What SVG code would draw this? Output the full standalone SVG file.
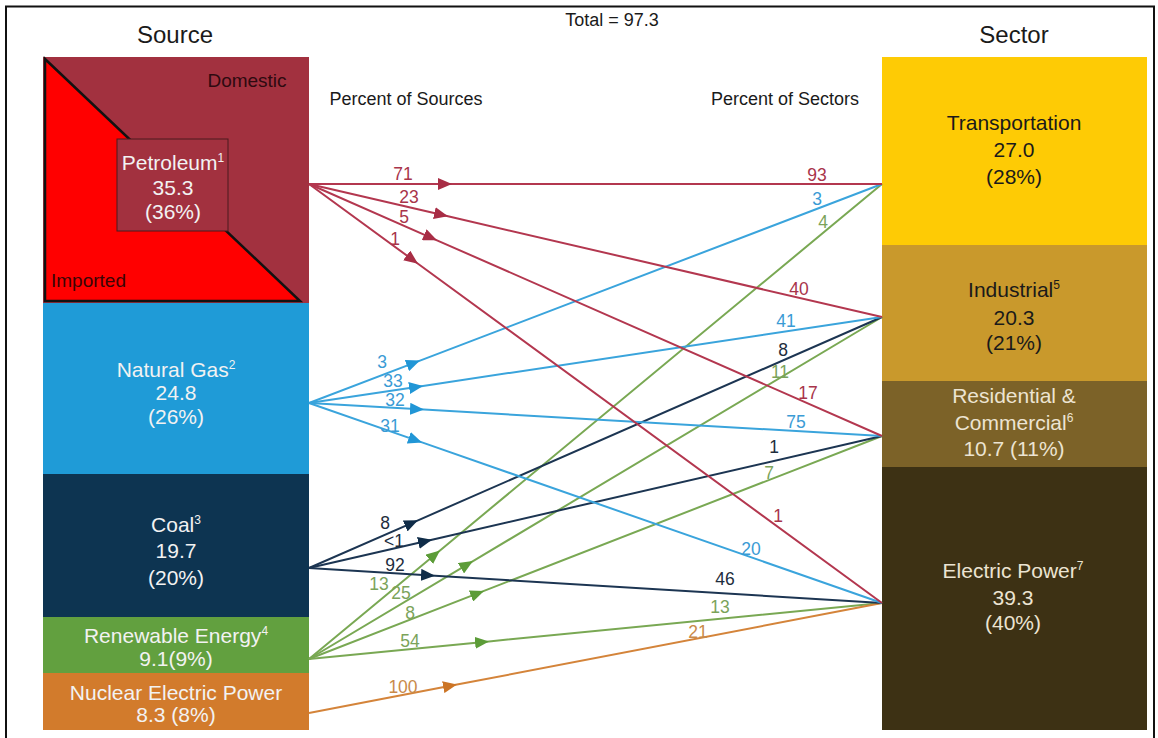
<svg xmlns="http://www.w3.org/2000/svg" width="1158" height="738" viewBox="0 0 1158 738">
<style>
text{font-family:"Liberation Sans",Arial,Helvetica,sans-serif}
.title{font-size:24px;fill:#1a1a1a;text-anchor:middle}
.sub{font-size:18px;fill:#1a1a1a;text-anchor:middle}
.nl{font-size:21px;text-anchor:middle}
.w{fill:#f2f2f2}
.dk{fill:#1a1a1a}
.lt{fill:#ece4d2}
.lbl{font-size:17.5px;text-anchor:middle}
.ln{fill:none;stroke-width:2}
.cp{stroke:#b3374f}
.cg{stroke:#3aa4dc}
.cc{stroke:#1c3552}
.cr{stroke:#79a853}
.cn{stroke:#d4843a}
.tp{fill:#a8344a}
.tg{fill:#3a9bd5}
.tc{fill:#1e2d3d}
.tr{fill:#7ba35a}
.tn{fill:#c98a4a}
</style>
<defs>
<marker id="ap" markerUnits="userSpaceOnUse" markerWidth="14" markerHeight="12" viewBox="0 0 14 12" refX="14" refY="6" orient="auto"><path d="M0,0 L14,6 L0,12 z" fill="#a82d45"/></marker>
<marker id="ag" markerUnits="userSpaceOnUse" markerWidth="14" markerHeight="12" viewBox="0 0 14 12" refX="14" refY="6" orient="auto"><path d="M0,0 L14,6 L0,12 z" fill="#2196d6"/></marker>
<marker id="ac" markerUnits="userSpaceOnUse" markerWidth="14" markerHeight="12" viewBox="0 0 14 12" refX="14" refY="6" orient="auto"><path d="M0,0 L14,6 L0,12 z" fill="#0f2c48"/></marker>
<marker id="ar" markerUnits="userSpaceOnUse" markerWidth="14" markerHeight="12" viewBox="0 0 14 12" refX="14" refY="6" orient="auto"><path d="M0,0 L14,6 L0,12 z" fill="#5c9c38"/></marker>
<marker id="an" markerUnits="userSpaceOnUse" markerWidth="14" markerHeight="12" viewBox="0 0 14 12" refX="14" refY="6" orient="auto"><path d="M0,0 L14,6 L0,12 z" fill="#cc7526"/></marker>
</defs>
<rect x="0" y="0" width="1158" height="738" fill="#ffffff"/>
<rect x="6" y="6.5" width="1148" height="740" fill="none" stroke="#111" stroke-width="2"/>

<g id="headings">
<text class="title" x="175" y="43">Source</text>
<text class="title" x="1014" y="43">Sector</text>
<text class="sub" x="612" y="26">Total = 97.3</text>
<text class="sub" x="406" y="105">Percent of Sources</text>
<text class="sub" x="785" y="105">Percent of Sectors</text>
</g>

<g id="node-petroleum">
<rect x="43" y="57" width="266" height="246" fill="#a2313f"/>
<polygon points="45,59 300,301 45,301" fill="#ff0000" stroke="#111" stroke-width="2.5" stroke-linejoin="miter"/>
<rect x="117" y="139" width="111" height="92" fill="#a2313f" stroke="#4a1a1f" stroke-width="1"/>
<text x="247" y="87" font-size="19" fill="#2e0a10" text-anchor="middle">Domestic</text>
<text x="51" y="287" font-size="19" fill="#3a0505">Imported</text>
<text class="nl w" x="173" y="170">Petroleum<tspan font-size="12" dy="-8">1</tspan></text>
<text class="nl w" x="173" y="195">35.3</text>
<text class="nl w" x="173" y="219">(36%)</text>
</g>

<g id="node-natural-gas">
<rect x="43" y="303" width="266" height="171" fill="#1f9bd7"/>
<text class="nl w" x="176" y="377">Natural Gas<tspan font-size="12" dy="-8">2</tspan></text>
<text class="nl w" x="176" y="400">24.8</text>
<text class="nl w" x="176" y="424">(26%)</text>
</g>

<g id="node-coal">
<rect x="43" y="474" width="266" height="143" fill="#0d3451"/>
<text class="nl w" x="176" y="532">Coal<tspan font-size="12" dy="-8">3</tspan></text>
<text class="nl w" x="176" y="558">19.7</text>
<text class="nl w" x="176" y="585">(20%)</text>
</g>

<g id="node-renewable">
<rect x="43" y="617" width="266" height="56" fill="#62a03f"/>
<text class="nl w" x="176" y="643">Renewable Energy<tspan font-size="12" dy="-8">4</tspan></text>
<text class="nl w" x="176" y="666">9.1(9%)</text>
</g>

<g id="node-nuclear">
<rect x="43" y="673" width="266" height="57" fill="#d27b2c"/>
<text class="nl w" x="176" y="700">Nuclear Electric Power</text>
<text class="nl w" x="176" y="722">8.3 (8%)</text>
</g>

<g id="node-transportation">
<rect x="882" y="57" width="265" height="188" fill="#fecb05"/>
<text class="nl dk" x="1014" y="130">Transportation</text>
<text class="nl dk" x="1014" y="157">27.0</text>
<text class="nl dk" x="1014" y="184">(28%)</text>
</g>

<g id="node-industrial">
<rect x="882" y="245" width="265" height="136" fill="#c9992c"/>
<text class="nl dk" x="1014" y="297">Industrial<tspan font-size="12" dy="-8">5</tspan></text>
<text class="nl dk" x="1014" y="325">20.3</text>
<text class="nl dk" x="1014" y="350">(21%)</text>
</g>

<g id="node-residential">
<rect x="882" y="381" width="265" height="86" fill="#7c6228"/>
<text class="nl lt" x="1014" y="403">Residential &amp;</text>
<text class="nl lt" x="1014" y="430">Commercial<tspan font-size="12" dy="-8">6</tspan></text>
<text class="nl lt" x="1014" y="456">10.7 (11%)</text>
</g>

<g id="node-electric">
<rect x="882" y="467" width="265" height="263" fill="#3d3114"/>
<text class="nl lt" x="1013" y="578">Electric Power<tspan font-size="12" dy="-8">7</tspan></text>
<text class="nl lt" x="1013" y="605">39.3</text>
<text class="nl lt" x="1013" y="630">(40%)</text>
</g>

<g id="connectors">
<path class="ln cr" marker-mid="url(#ar)" d="M309,659 L440,550.4 L882,184"/>
<path class="ln cr" marker-mid="url(#ar)" d="M309,659 L473,561.1 L882,317"/>
<path class="ln cr" marker-mid="url(#ar)" d="M309,659 L484,590.9 L882,436"/>
<path class="ln cr" marker-mid="url(#ar)" d="M309,659 L489,641.4 L882,603"/>
<path class="ln cn" marker-mid="url(#an)" d="M309,713 L457,684.6 L882,603"/>
<path class="ln cc" marker-mid="url(#ac)" d="M309,568 L418,520.3 L882,317"/>
<path class="ln cc" marker-mid="url(#ac)" d="M309,568 L432,539.7 L882,436"/>
<path class="ln cc" marker-mid="url(#ac)" d="M309,568 L435,575.7 L882,603"/>
<path class="ln cg" marker-mid="url(#ag)" d="M309,403 L420,360.6 L882,184"/>
<path class="ln cg" marker-mid="url(#ag)" d="M309,403 L423,385.9 L882,317"/>
<path class="ln cg" marker-mid="url(#ag)" d="M309,403 L424,409.6 L882,436"/>
<path class="ln cg" marker-mid="url(#ag)" d="M309,403 L422,442.4 L882,603"/>
<path class="ln cp" marker-mid="url(#ap)" d="M309,184 L452,184 L882,184"/>
<path class="ln cp" marker-mid="url(#ap)" d="M309,184 L448,216.3 L882,317"/>
<path class="ln cp" marker-mid="url(#ap)" d="M309,184 L437,240.3 L882,436"/>
<path class="ln cp" marker-mid="url(#ap)" d="M309,184 L418,263.7 L882,603"/>
</g>

<g id="connector-labels" class="lbl">
<text class="lbl tp" x="403" y="180">71</text>
<text class="lbl tp" x="409" y="203">23</text>
<text class="lbl tp" x="404" y="223">5</text>
<text class="lbl tp" x="395" y="245">1</text>
<text class="lbl tp" x="817" y="181">93</text>
<text class="lbl tp" x="799" y="295">40</text>
<text class="lbl tp" x="808" y="399">17</text>
<text class="lbl tp" x="778" y="522">1</text>

<text class="lbl tg" x="382" y="368">3</text>
<text class="lbl tg" x="393" y="387">33</text>
<text class="lbl tg" x="395" y="406">32</text>
<text class="lbl tg" x="390" y="432">31</text>
<text class="lbl tg" x="817" y="205">3</text>
<text class="lbl tg" x="786" y="327">41</text>
<text class="lbl tg" x="796" y="428">75</text>
<text class="lbl tg" x="751" y="555">20</text>

<text class="lbl tc" x="385" y="529">8</text>
<text class="lbl tc" x="394" y="547">&lt;1</text>
<text class="lbl tc" x="395" y="571">92</text>
<text class="lbl tc" x="783" y="356">8</text>
<text class="lbl tc" x="774" y="453">1</text>
<text class="lbl tc" x="725" y="585">46</text>

<text class="lbl tr" x="379" y="590">13</text>
<text class="lbl tr" x="401" y="599">25</text>
<text class="lbl tr" x="410" y="619">8</text>
<text class="lbl tr" x="410" y="647">54</text>
<text class="lbl tr" x="823" y="228">4</text>
<text class="lbl tr" x="780" y="378">11</text>
<text class="lbl tr" x="769" y="479">7</text>
<text class="lbl tr" x="720" y="613">13</text>

<text class="lbl tn" x="403" y="693">100</text>
<text class="lbl tn" x="698" y="638">21</text>
</g>
</svg>
